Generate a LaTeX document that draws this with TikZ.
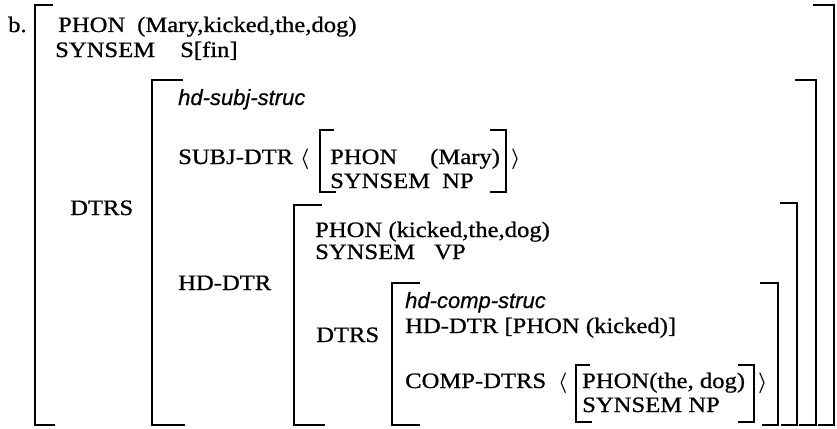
\documentclass[tikz,border=0pt]{standalone}
\usepackage{fontspec}
\setmainfont{Liberation Serif}[FakeStretch=1.12,FakeBold=0.8]
\setsansfont{Liberation Sans}[FakeBold=0.6]
\usetikzlibrary{positioning}

\begin{document}
\begin{tikzpicture}[
  x=1pt,y=-1pt,
  lbl/.style={anchor=base west,inner sep=0pt,font=\fontsize{22}{26}\selectfont},
  typ/.style={anchor=base west,inner sep=0pt,font=\fontsize{22}{26}\selectfont\sffamily\itshape},
  ang/.style={anchor=base west,inner sep=0pt,font=\fontsize{22}{26}\selectfont\boldmath},
  brk/.style={line width=2.2pt}
]
\useasboundingbox (0,0) rectangle (837,428);
% top level
\node[lbl] (b) at (8,32) {b.};
\node[lbl] (phon) at (58,32) {PHON};
\node[lbl] (phonval) at (137,32) {(Mary,kicked,the,dog)};
\node[lbl] (synsem) at (55,57) {SYNSEM};
\node[lbl] (synsemval) at (180,57) {S[fin]};
\node[lbl] (dtrs) at (70,215) {DTRS};
% hd-subj-struc
\node[typ] (subjtype) at (178,105) {hd-subj-struc};
\node[lbl] (subjdtr) at (178,164) {SUBJ-DTR};
\node[ang] (lang1) at (300,164) {$\langle$};
\node[lbl] (sphon) at (330,164) {PHON};
\node[lbl] (smary) at (430,164) {(Mary)};
\node[lbl] (ssyn) at (330,188) {SYNSEM};
\node[lbl] (snp) at (442,188) {NP};
\node[ang] (rang1) at (511,164) {$\rangle$};
\node[lbl] (hddtr) at (178,290) {HD-DTR};
% head daughter
\node[lbl] (hphon) at (315,237) {PHON (kicked,the,dog)};
\node[lbl] (hsyn) at (315,259) {SYNSEM};
\node[lbl] (hvp) at (434,259) {VP};
\node[lbl] (idtrs) at (316,342) {DTRS};
% hd-comp-struc
\node[typ] (comptype) at (405,308) {hd-comp-struc};
\node[lbl] (chd) at (405,333) {HD-DTR [PHON (kicked)]};
\node[lbl] (compdtrs) at (405,388) {COMP-DTRS};
\node[ang] (lang2) at (558,388) {$\langle$};
\node[lbl] (cphon) at (582,388) {PHON(the, dog)};
\node[lbl] (csyn) at (582,412) {SYNSEM NP};
\node[ang] (rang2) at (758,388) {$\rangle$};
% left brackets
\draw[brk] (53,5) -| (35,425) -- (55,425);
\draw[brk] (183,80) -| (152,425) -- (185,425);
\draw[brk] (334,130) -| (320,192) -- (336,192);
\draw[brk] (322,205) -| (294,425) -- (325,425);
\draw[brk] (420,283) -| (392,425) -- (420,425);
\draw[brk] (590,365) -| (576,422) -- (592,422);
% right brackets
\draw[brk] (490,130) -| (506,192) -- (490,192);
\draw[brk] (738,365) -| (754,422) -- (738,422);
\draw[brk] (760,283) -| (778,425) -- (762,425);
\draw[brk] (780,203) -| (797,425) -- (781,425);
\draw[brk] (795,80) -| (816,425) -- (799,425);
\draw[brk] (813,5) -| (834,425) -- (818,425);
\end{tikzpicture}
\end{document}
